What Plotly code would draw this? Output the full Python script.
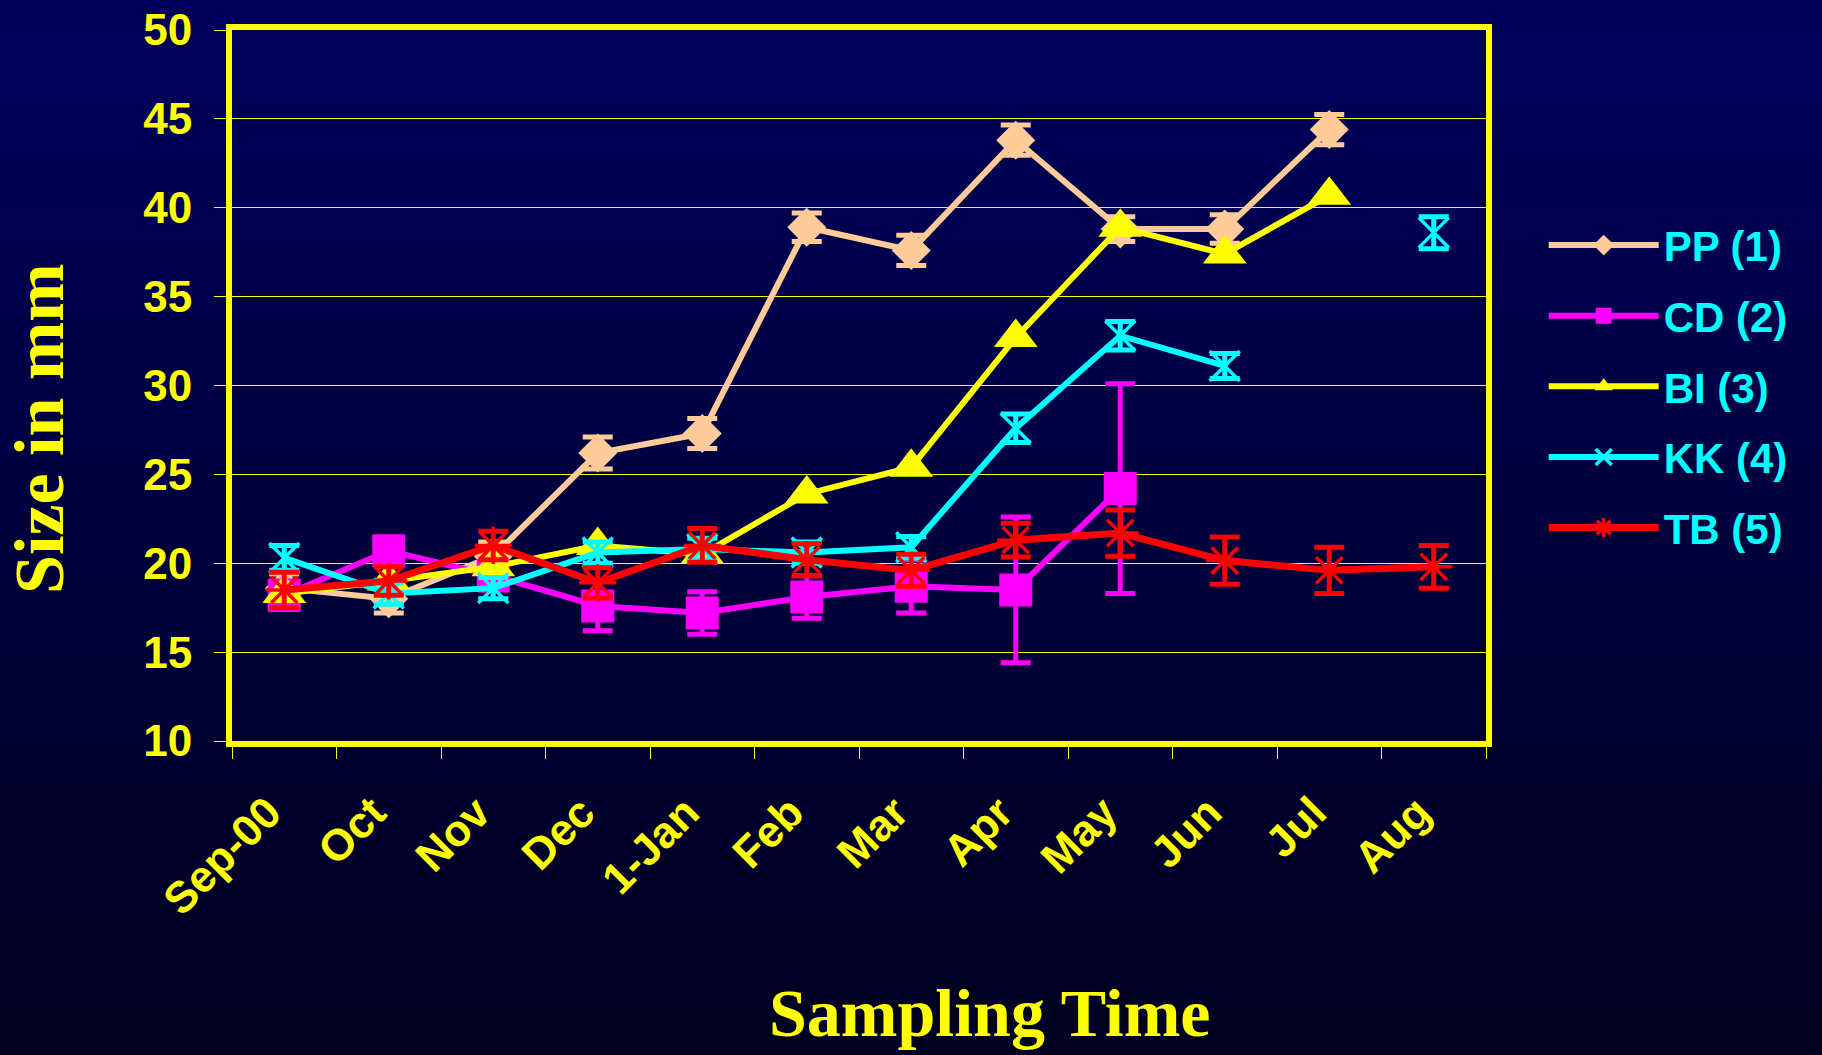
import plotly.graph_objects as go

# ---------------- data ----------------
months = ["Sep-00", "Oct", "Nov", "Dec", "1-Jan", "Feb", "Mar", "Apr", "May", "Jun", "Jul", "Aug"]

pp_vals = [18.6, 18.0, 20.4, 26.2, 27.3, 38.9, 37.6, 43.8, 38.8, 38.8, 44.4, None]
pp_err = [0.8, 0.8, 0.8, 0.9, 0.85, 0.8, 0.85, 0.85, 0.7, 0.8, 0.85, None]

cd_vals = [18.2, 20.7, 19.3, 17.6, 17.2, 18.1, 18.7, 18.5, 24.2, None, None, None]
cd_err = [0.8, 0.6, 0.8, 1.4, 1.2, 1.2, 1.5, 4.1, 5.9, None, None, None]

bi_vals = [18.3, 19.0, 19.8, 21.0, 20.5, 23.9, 25.4, 32.7, 38.9, 37.4, 40.7, None]

kk_vals = [20.3, 18.3, 18.6, 20.6, 20.8, 20.6, 20.9, 27.6, 32.8, 31.1, None, 38.6]
kk_err = [0.7, 0.6, 0.6, 0.6, 0.6, 0.6, 0.6, 0.8, 0.8, 0.7, None, 0.9]

tb_vals = [18.5, 19.0, 21.0, 18.9, 21.0, 20.2, 19.6, 21.3, 21.7, 20.15, 19.6, 19.8]
tb_err = [1.0, 0.8, 0.8, 0.85, 0.95, 0.9, 0.9, 0.95, 1.3, 1.33, 1.3, 1.2]

series_names = ["PP (1)", "CD (2)", "BI (3)", "KK (4)", "TB (5)"]

# ---------------- styles ----------------
YELLOW = "#FFFF00"
W, H = 1822, 1055
L, R, T, B = 232, 336, 30, 314
SANS = "Liberation Sans, Arial"
SERIF = "Liberation Serif, Times New Roman"

fig = go.Figure()


def add_series(name, vals, err, color, symbol, msize, mline=0, lw=6):
    kw = {}
    if err is not None:
        kw["error_y"] = dict(type="data", array=err, visible=True, color=color,
                             thickness=5, width=15)
    fig.add_trace(go.Scatter(
        x=months, y=vals, name=name, mode="lines+markers",
        line=dict(color=color, width=lw),
        marker=dict(symbol=symbol, size=msize, color=color,
                    line=dict(color=color, width=mline)),
        legendgroup=name, connectgaps=False, **kw))


add_series(series_names[0], pp_vals, pp_err, "#FFCC99", "diamond", 30)
add_series(series_names[1], cd_vals, cd_err, "#FF00FF", "square", 33)
add_series(series_names[2], bi_vals, None, "#FFFF00", "triangle-up", 38)
add_series(series_names[3], kk_vals, kk_err, "#00FFFF", "x-thin", 30, mline=3.5, lw=6)
add_series(series_names[4], tb_vals, tb_err, "#FF0000", "asterisk", 31, mline=3.5, lw=7)

# ---------------- background gradient (decoration) ----------------
shapes = []
nb = 60
pw = W - L - R
ph = H - T - B
for i in range(nb):
    y0px = H * i / nb
    y1px = H * (i + 1) / nb + 1
    t = (i + 0.5) / nb
    b = int(round(0x5C + (0x1E - 0x5C) * t))
    col = "rgb(0,0,%d)" % b
    shapes.append(dict(type="rect", xref="paper", yref="paper",
                       x0=-L / pw, x1=1 + R / pw,
                       y0=1 - (y1px - T) / ph, y1=1 - (y0px - T) / ph,
                       fillcolor=col, line=dict(width=0), layer="below"))

fig.update_layout(
    width=W, height=H,
    margin=dict(l=L, r=R, t=T, b=B, pad=0, autoexpand=False),
    paper_bgcolor="#00003A",
    plot_bgcolor="rgba(0,0,0,0)",
    shapes=shapes,
    showlegend=True,
    legend=dict(
        x=1.046, xanchor="left", y=0.745, yanchor="top",
        font=dict(family=SANS, size=42, color="#00FFFF", weight="bold"),
        bgcolor="rgba(0,0,0,0)", itemwidth=110, tracegroupgap=13,
        itemsizing="trace",
    ),
    xaxis=dict(
        type="category", range=[-0.5, 11.5], automargin=False,
        showline=True, linecolor=YELLOW, linewidth=6, mirror=True,
        ticks="outside", tickson="boundaries", ticklen=12, tickwidth=1, tickcolor=YELLOW,
        tickangle=-45, showgrid=False, zeroline=False,
        tickfont=dict(family=SANS, size=44, color=YELLOW, weight="bold"),
        ticklabelstandoff=22, ticklabelshift=-16,
    ),
    yaxis=dict(
        range=[10, 50], dtick=5, tick0=10, automargin=False,
        showline=True, linecolor=YELLOW, linewidth=6, mirror=True,
        ticks="outside", ticklen=12, tickwidth=1, tickcolor=YELLOW,
        showgrid=True, gridcolor=YELLOW, gridwidth=1, zeroline=False,
        tickfont=dict(family=SANS, size=44, color=YELLOW, weight="bold"),
        ticklabelstandoff=13,
    ),
    annotations=[
        dict(text="Size in mm", textangle=-90, xref="paper", yref="paper",
             x=(39 - L) / pw, y=1 - (429 - T) / ph,
             xanchor="center", yanchor="middle", showarrow=False,
             font=dict(family=SERIF, size=70, color=YELLOW, weight="bold")),
        dict(text="Sampling Time", xref="paper", yref="paper",
             x=(990 - L) / pw, y=1 - (1013 - T) / ph,
             xanchor="center", yanchor="middle", showarrow=False,
             font=dict(family=SERIF, size=68, color=YELLOW, weight="bold")),
    ],
)

fig.write_html("out.html", config={"displayModeBar": False},
               post_script="document.body.style.margin='0';document.body.style.background='#00001E';")
